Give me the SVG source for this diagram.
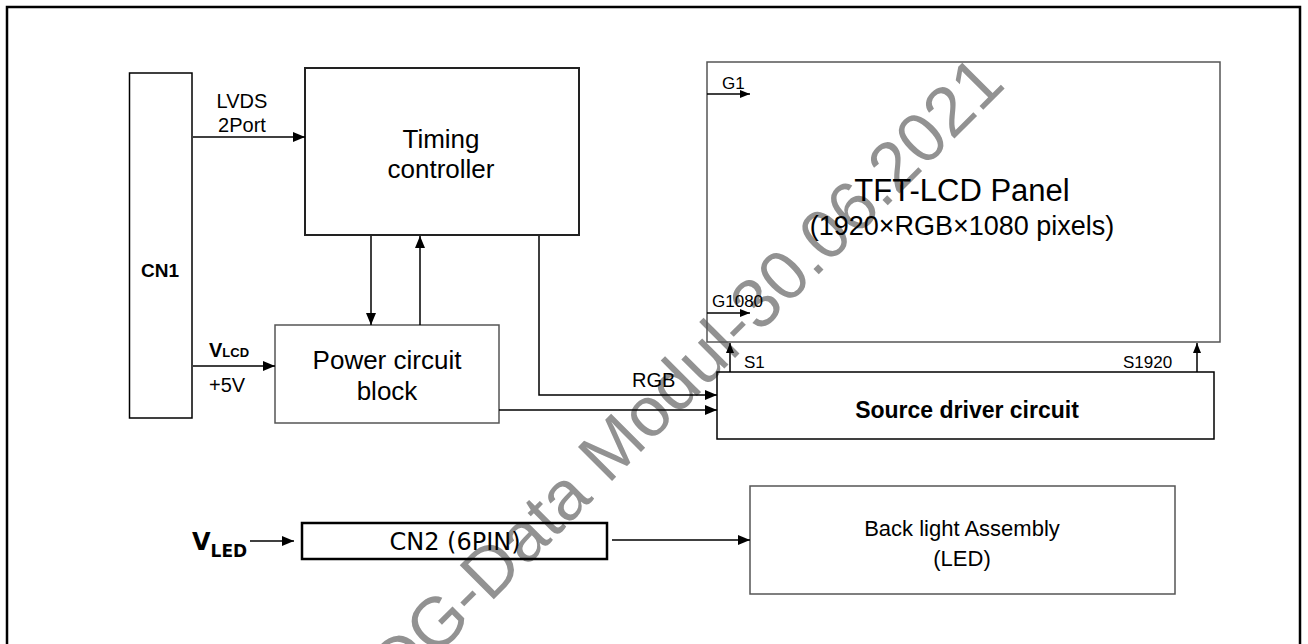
<svg xmlns="http://www.w3.org/2000/svg" width="1308" height="644" viewBox="0 0 1308 644">
<style>
.box{fill:none;stroke:#000;stroke-width:1.5}
.gbox{fill:none;stroke:#555;stroke-width:1.5}
.ln{fill:none;stroke:#000;stroke-width:1.5}
.t{font-family:"Liberation Sans",Arial,sans-serif;fill:#000}
.b{font-weight:bold}
.m{text-anchor:middle}
.v{font-family:"DejaVu Sans",Tahoma,sans-serif;fill:#000}
.wm{font-family:"Liberation Sans",Arial,sans-serif;fill:#929292;font-size:70px}
</style>
<defs>
<marker id="ah" markerUnits="userSpaceOnUse" markerWidth="12" markerHeight="10" refX="12" refY="5" orient="auto">
<path d="M0,0 L12,5 L0,10 Z" fill="#000"/>
</marker>
<marker id="as" markerUnits="userSpaceOnUse" markerWidth="10" markerHeight="8" refX="10" refY="4" orient="auto">
<path d="M0,0 L10,4 L0,8 Z" fill="#000"/>
</marker>
</defs>
<rect width="1308" height="644" fill="#fff"/>
<text class="wm" x="1007" y="86" text-anchor="end" transform="rotate(-45 1007 86)">DDG-Data Modul-30.06.2021</text>
<rect x="7" y="7" width="1293" height="700" fill="none" stroke="#000" stroke-width="2.5"/>
<g id="cn1">
<rect class="box" x="129.5" y="73" width="62.5" height="345"/>
<text class="t b m" x="160" y="277" font-size="19">CN1</text>
</g>
<g id="timing">
<rect x="305" y="68" width="274" height="167" fill="none" stroke="#222" stroke-width="2"/>
<text class="t m" x="441" y="148" font-size="26">Timing</text>
<text class="t m" x="441" y="178" font-size="26">controller</text>
</g>
<g id="power">
<rect class="gbox" x="275" y="325" width="224" height="98"/>
<text class="t m" x="387" y="369" font-size="26">Power circuit</text>
<text class="t m" x="387" y="400" font-size="26">block</text>
</g>
<g id="panel">
<rect class="gbox" x="707" y="62" width="513" height="280"/>
<text class="t m" x="962" y="201" font-size="31">TFT-LCD Panel</text>
<text class="t m" x="962" y="235" font-size="27">(1920×RGB×1080 pixels)</text>
<text class="t" x="722" y="89" font-size="17">G1</text>
<text class="t" x="712" y="307" font-size="17">G1080</text>
</g>
<g id="source">
<rect class="box" x="717" y="372" width="497" height="67"/>
<text class="t b m" x="967" y="418" font-size="23">Source driver circuit</text>
<text class="t" x="744" y="368" font-size="17">S1</text>
<text class="t" x="1123" y="368" font-size="17">S1920</text>
</g>
<g id="cn2">
<rect x="302" y="523" width="305" height="36" fill="none" stroke="#000" stroke-width="2.5"/>
<text class="v m" x="455" y="550" font-size="24">CN2 (6PIN)</text>
</g>
<g id="backlight">
<rect class="gbox" x="750" y="486" width="425" height="108"/>
<text class="t m" x="962" y="536" font-size="22">Back light Assembly</text>
<text class="t m" x="962" y="566" font-size="22">(LED)</text>
</g>
<g id="labels">
<text class="t m" x="242" y="108" font-size="20">LVDS</text>
<text class="t m" x="242" y="132" font-size="20">2Port</text>
<text class="t b" x="209" y="357" font-size="20">V<tspan font-size="13">LCD</tspan></text>
<text class="t" x="209" y="392" font-size="20">+5V</text>
<text class="t" x="632" y="387" font-size="20">RGB</text>
<text class="v b" x="192" y="550" font-size="24">V<tspan font-size="17" dy="7">LED</tspan></text>
</g>
<g id="connectors">
<line class="ln" x1="193" y1="137" x2="305" y2="137" marker-end="url(#ah)"/>
<line class="ln" x1="193" y1="366" x2="275" y2="366" marker-end="url(#ah)"/>
<line class="ln" x1="371" y1="236" x2="371" y2="325" marker-end="url(#ah)"/>
<line class="ln" x1="420" y1="325" x2="420" y2="236" marker-end="url(#ah)"/>
<polyline class="ln" points="539,236 539,395 717,395" marker-end="url(#ah)"/>
<line class="ln" x1="499" y1="410" x2="717" y2="410" marker-end="url(#ah)"/>
<line class="ln" x1="707" y1="94" x2="750" y2="94" marker-end="url(#as)"/>
<line class="ln" x1="707" y1="313" x2="750" y2="313" marker-end="url(#as)"/>
<line class="ln" x1="730" y1="372" x2="730" y2="343" marker-end="url(#as)"/>
<line class="ln" x1="1197" y1="372" x2="1197" y2="343" marker-end="url(#as)"/>
<line class="ln" x1="250" y1="541" x2="294" y2="541" marker-end="url(#ah)"/>
<line class="ln" x1="612" y1="540" x2="750" y2="540" marker-end="url(#ah)"/>
</g>
</svg>
